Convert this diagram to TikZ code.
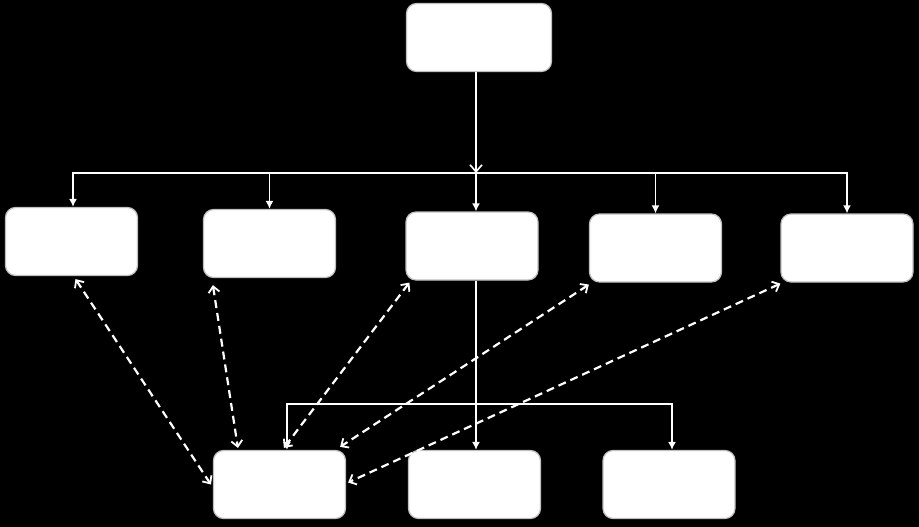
\documentclass[tikz,border=0pt]{standalone}
\usetikzlibrary{arrows.meta,calc}
\begin{document}
\begin{tikzpicture}[x=1pt,y=-1pt,
  box/.style={fill=white, rounded corners=10pt, draw=white!75!black, line width=1.2pt,
    inner sep=0pt, minimum width=132pt, minimum height=68pt},
  solidarrow/.style={draw=white, line width=1.6pt, -{Latex[length=8pt,width=8pt]}},
  openarrow/.style={draw=white, line width=1.6pt, -{Straight Barb[length=7pt,width=12pt,line width=1.6pt]}},
  plainline/.style={draw=white, line width=1.6pt},
  dashlink/.style={draw=white, line width=2.2pt, dash pattern=on 8pt off 5pt,
    {Straight Barb[length=6pt,width=11pt,line width=1.8pt]}-{Straight Barb[length=6pt,width=11pt,line width=1.8pt]}}
]
\fill[black] (0,0) rectangle (919,527);
\useasboundingbox (0,0) rectangle (919,527);

\node[box, minimum width=145pt] (top) at (479,37.5) {};
\node[box] (b1) at (71.5,241.5) {};
\node[box] (b2) at (269.5,243.5) {};
\node[box] (b3) at (472,246) {};
\node[box] (b4) at (655.5,248) {};
\node[box] (b5) at (847,248) {};
\node[box] (b6) at (279.5,484.5) {};
\node[box] (b7) at (474.5,484.5) {};
\node[box] (b8) at (669,484.5) {};

\coordinate (j1) at (476,173);
\coordinate (j2) at (476,404);

% top to upper bus
\draw[openarrow] (top.south -| j1) -- (j1);
\draw[plainline] (73,173) -- (847,173);
\draw[solidarrow] (j1) -| ([xshift=1.5pt]b1.north);
\draw[solidarrow] (j1) -| (b2.north);
\draw[solidarrow] (j1) -- (j1 |- b3.north);
\draw[solidarrow] (j1) -| (b4.north);
\draw[solidarrow] (j1) -| (b5.north);

% lower bus
\draw[solidarrow] (b3.south -| j2) -- (j2 |- b7.north);
\draw[solidarrow] (j2) -| ([xshift=7.5pt]b6.north);
\draw[solidarrow] (j2) -| ([xshift=3pt]b8.north);

% dashed links
\draw[dashlink] ([xshift=4pt,yshift=-3pt]b1.south) -- ([xshift=-2pt]b6.west);
\draw[dashlink] ([xshift=10pt,yshift=-7pt]b2.south west) -- ([xshift=25pt,yshift=2pt]b6.north west);
\draw[dashlink] ([xshift=4pt,yshift=-2pt]b3.south west) -- ([xshift=71pt,yshift=2pt]b6.north west);
\draw[dashlink] ([yshift=-2pt]b4.south west) -- ([xshift=-6pt,yshift=3pt]b6.north east);
\draw[dashlink] ([yshift=-1pt]b5.south west) -- ([xshift=2pt,yshift=2pt]b6.east);
\end{tikzpicture}
\end{document}
